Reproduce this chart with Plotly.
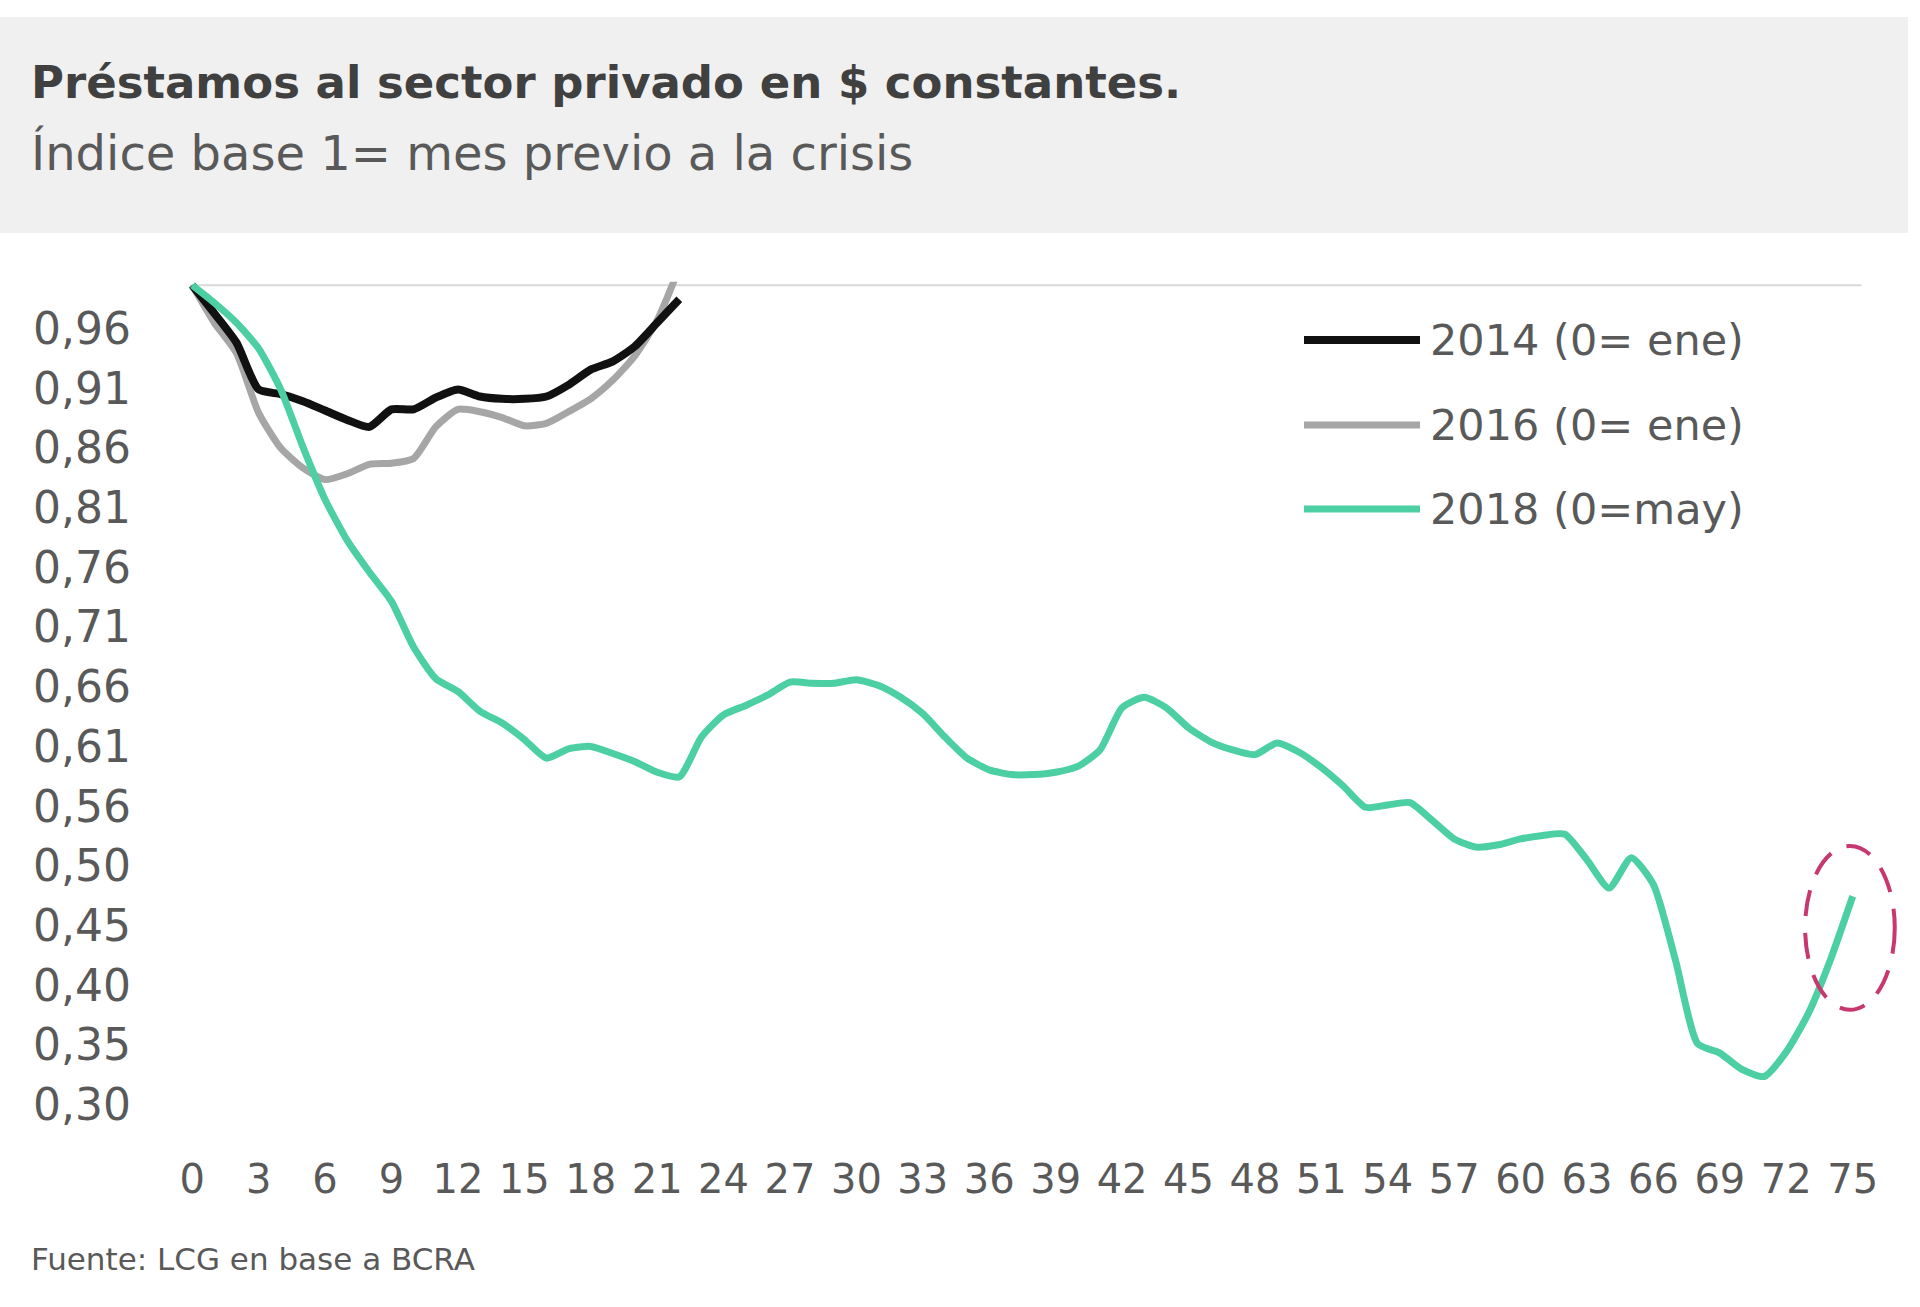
import plotly.graph_objects as go

# ---------------- data ----------------
months_short = list(range(0, 23))
values_2014 = [1.000, 0.976, 0.951, 0.911, 0.907, 0.901, 0.893, 0.885, 0.879, 0.894,
               0.894, 0.904, 0.911, 0.905, 0.903, 0.903, 0.905, 0.915, 0.928, 0.935,
               0.948, 0.968, 0.988]
values_2016 = [1.000, 0.968, 0.942, 0.891, 0.861, 0.844, 0.834, 0.839, 0.847, 0.848,
               0.852, 0.879, 0.894, 0.892, 0.887, 0.880, 0.882, 0.892, 0.903, 0.919,
               0.940, 0.970, 1.015]
months_2018 = list(range(0, 76))
values_2018 = [1.000, 0.985, 0.968, 0.946, 0.911, 0.862, 0.817, 0.782, 0.755, 0.730,
               0.691, 0.664, 0.653, 0.636, 0.626, 0.612, 0.596, 0.604, 0.606, 0.600,
               0.593, 0.584, 0.580, 0.614, 0.633, 0.641, 0.650, 0.661, 0.660, 0.660,
               0.663, 0.658, 0.648, 0.634, 0.614, 0.596, 0.586, 0.582, 0.582, 0.584,
               0.589, 0.603, 0.639, 0.648, 0.639, 0.622, 0.610, 0.603, 0.599, 0.609,
               0.601, 0.588, 0.572, 0.554, 0.556, 0.558, 0.543, 0.527, 0.520, 0.522,
               0.527, 0.530, 0.531, 0.509, 0.485, 0.511, 0.488, 0.423, 0.352, 0.344,
               0.330, 0.324, 0.345, 0.378, 0.424, 0.478]

series_names = ["2014 (0= ene)", "2016 (0= ene)", "2018 (0=may)"]
series_colors = ["#111111", "#a6a6a6", "#4ccfa2"]

y_tick_labels = ["0,30", "0,35", "0,40", "0,45", "0,50", "0,56", "0,61", "0,66",
                 "0,71", "0,76", "0,81", "0,86", "0,91", "0,96"]
y_axis_min, y_axis_step, y_axis_max = 0.30, 0.051, 1.0
x_tick_values = list(range(0, 76, 3))
x_tick_labels = [str(v) for v in x_tick_values]

title = "Préstamos al sector privado en $ constantes."
subtitle = "Índice base 1= mes previo a la crisis"
source = "Fuente: LCG en base a BCRA"

# ---------------- layout helpers ----------------
W, H = 1920, 1307
def px_x(p):
    return p / W
def px_y(p):
    return 1 - p / H

FONT = "DejaVu Sans"
TXT = "#595959"
LINE_SHAPE = dict(shape="spline", smoothing=0.6)

fig = go.Figure()
fig.add_trace(go.Scatter(x=months_short, y=values_2016, mode="lines", name=series_names[1],
                         line=dict(color=series_colors[1], width=7, **LINE_SHAPE)))
fig.add_trace(go.Scatter(x=months_short, y=values_2014, mode="lines", name=series_names[0],
                         line=dict(color=series_colors[0], width=8, **LINE_SHAPE)))
fig.add_trace(go.Scatter(x=months_2018, y=values_2018, mode="lines", name=series_names[2],
                         line=dict(color=series_colors[2], width=7, **LINE_SHAPE)))

y_tick_vals = [y_axis_min + i * y_axis_step for i in range(len(y_tick_labels))]

# plot area geometry (pixels)
x0_px, x1_px = 150, 1915
unit_x = 22.14
zero_x = 192.2
top_px, bot_px = 281.8, 1140
unit_y = 1170.4
y_top_val = 1.003
y_bot_val = y_top_val - (bot_px - top_px) / unit_y

fig.update_layout(
    width=W, height=H,
    margin=dict(l=0, r=0, t=0, b=0),
    paper_bgcolor="white", plot_bgcolor="white",
    showlegend=False,
    font=dict(family=FONT, color=TXT),
    xaxis=dict(domain=[px_x(x0_px), px_x(x1_px)],
               range=[(x0_px - zero_x) / unit_x, (x1_px - zero_x) / unit_x],
               tickmode="array", tickvals=x_tick_values, ticktext=x_tick_labels,
               tickangle=0, showgrid=False, zeroline=False, showline=False,
               ticks="", ticklabelstandoff=12,
               tickfont=dict(family=FONT, size=40, color=TXT)),
    yaxis=dict(domain=[px_y(bot_px), px_y(top_px)],
               range=[y_bot_val, y_top_val],
               tickmode="array", tickvals=y_tick_vals, ticktext=y_tick_labels,
               showgrid=False, zeroline=False, showline=False,
               ticks="", ticklabelstandoff=18,
               tickfont=dict(family=FONT, size=44, color=TXT)),
)

shapes = []
# header band
shapes.append(dict(type="rect", xref="paper", yref="paper",
                   x0=0, x1=px_x(1908), y0=px_y(233), y1=px_y(17),
                   fillcolor="#f0f0f0", line=dict(width=0), layer="below"))
# top border line of plot area
shapes.append(dict(type="line", xref="x", yref="y", x0=-0.1, x1=75.4,
                   y0=y_axis_max, y1=y_axis_max,
                   line=dict(color="#d9d9d9", width=2), layer="below"))
# dashed ellipse highlighting the last months
shapes.append(dict(type="circle", xref="x", yref="y", x0=72.85, x1=76.9,
                   y0=0.381, y1=0.521,
                   line=dict(color="#c8376f", width=4, dash="26px,17px")))
# manual legend
legend_y_px = [340, 425, 509]
legend_widths = [8, 7, 7]
for i in range(3):
    shapes.append(dict(type="line", xref="paper", yref="paper",
                       x0=px_x(1304), x1=px_x(1420),
                       y0=px_y(legend_y_px[i]), y1=px_y(legend_y_px[i]),
                       line=dict(color=series_colors[i], width=legend_widths[i])))
fig.update_layout(shapes=shapes)

ann = []
ann.append(dict(text="<b>" + title + "</b>", x=px_x(29), y=px_y(82), xref="paper", yref="paper",
                xanchor="left", yanchor="middle", showarrow=False,
                font=dict(family=FONT, size=45, color="#404040")))
ann.append(dict(text=subtitle, x=px_x(29), y=px_y(153), xref="paper", yref="paper",
                xanchor="left", yanchor="middle", showarrow=False,
                font=dict(family=FONT, size=48, color=TXT)))
ann.append(dict(text=source, x=px_x(29), y=px_y(1259), xref="paper", yref="paper",
                xanchor="left", yanchor="middle", showarrow=False,
                font=dict(family=FONT, size=31, color=TXT)))
for i in range(3):
    ann.append(dict(text=series_names[i], x=px_x(1428), y=px_y(legend_y_px[i]),
                    xref="paper", yref="paper", xanchor="left", yanchor="middle",
                    showarrow=False, font=dict(family=FONT, size=43, color=TXT)))
fig.update_layout(annotations=ann)

fig.write_html("out.html", config={"displayModeBar": False},
               post_script="document.body.style.margin='0px';")
